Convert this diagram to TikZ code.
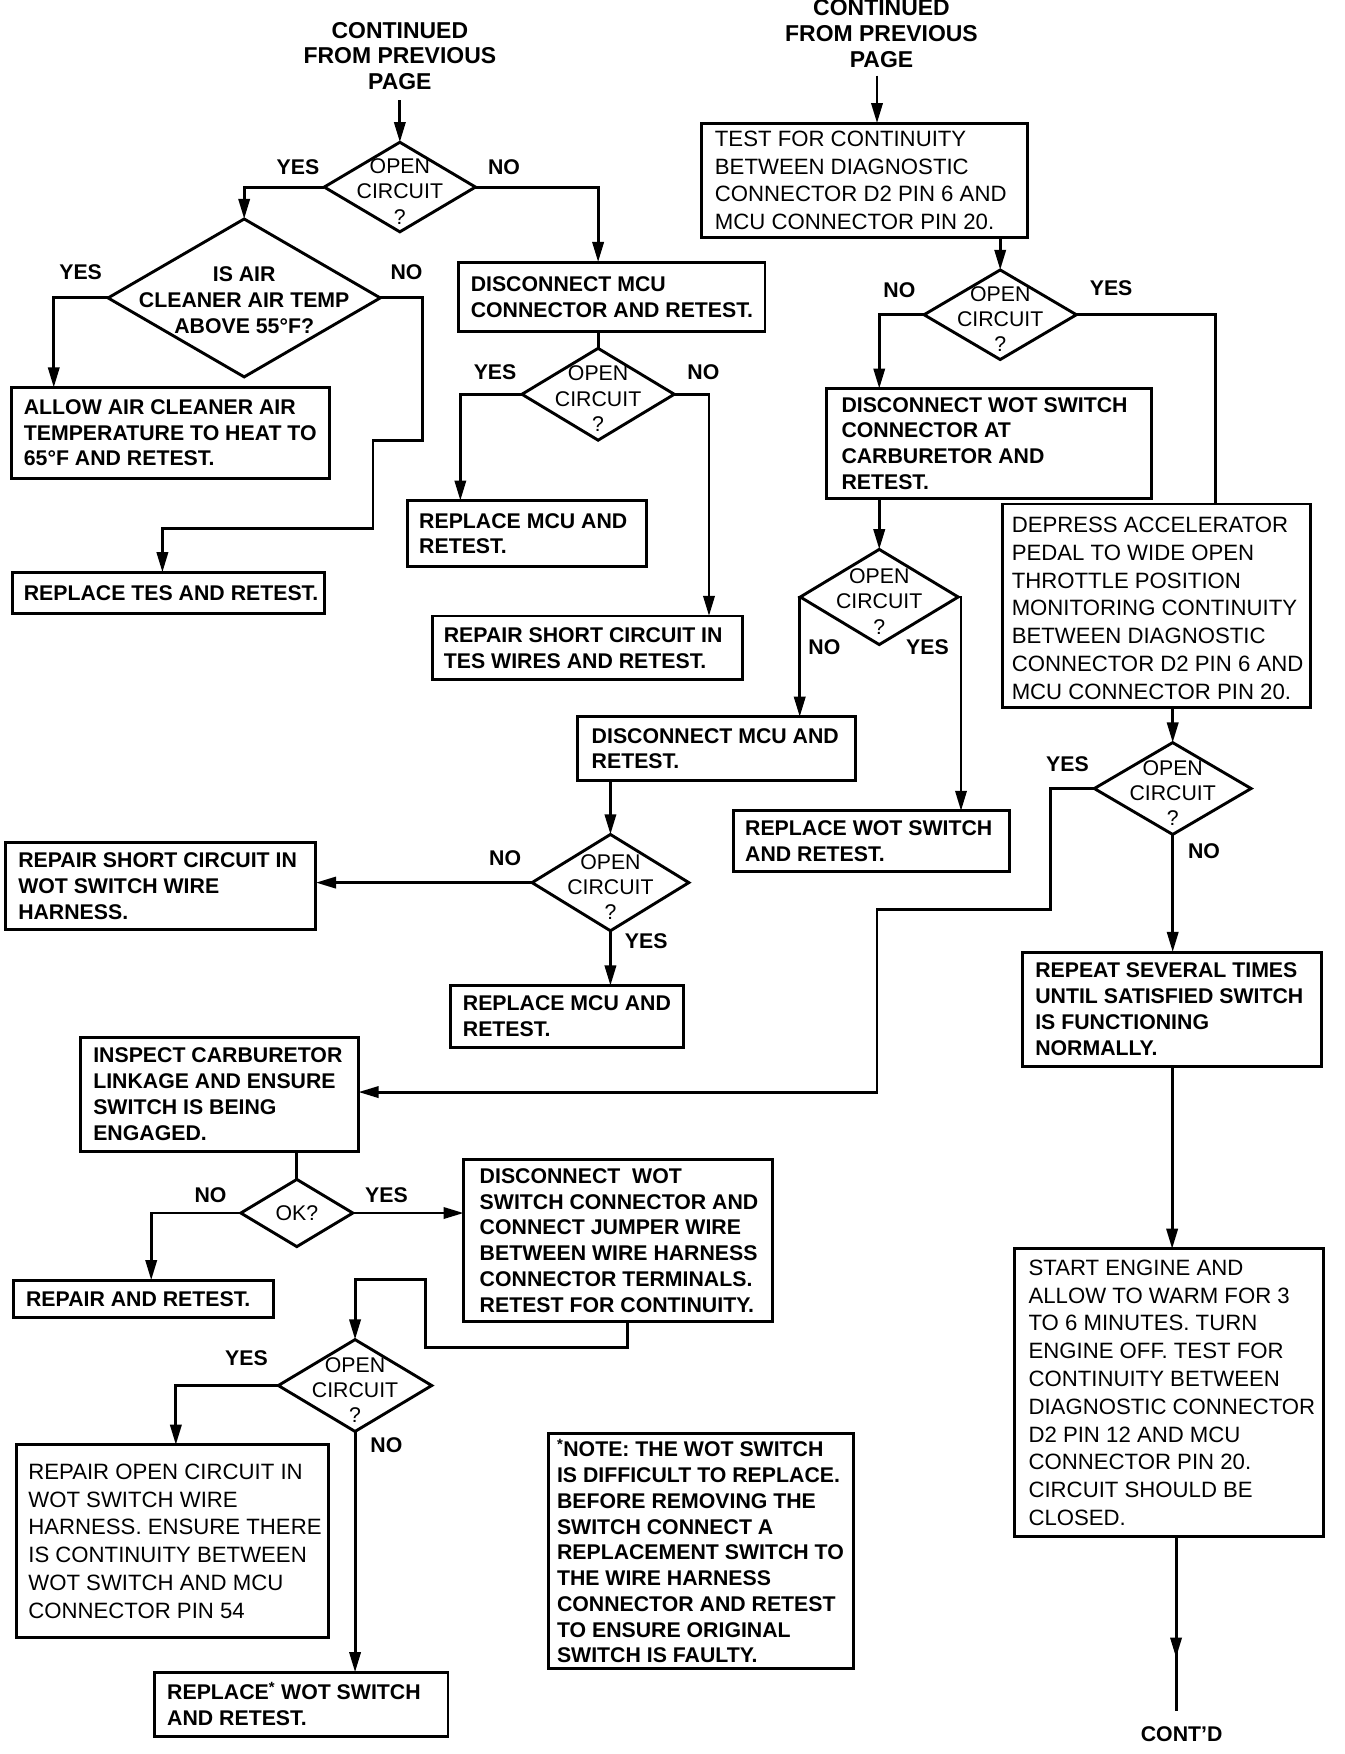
\documentclass[tikz,border=0pt]{standalone}
\usepackage{fontspec}
\setmainfont{Liberation Sans}
\usetikzlibrary{arrows.meta,shapes.geometric}
\newcommand{\bx}[5]{\node[box, minimum width={#4-#2}, minimum height={#5-#3}] (#1) at ({(#2+#4)/2},{(#3+#5)/2}) {};}
\newcommand{\dm}[5]{\node[dia, minimum width=#4, minimum height=#5] (#1) at (#2,#3) {};}
\begin{document}
\begin{tikzpicture}[x=1pt,y=-1pt, line width=2.6pt,
 box/.style={draw, rectangle, inner sep=0pt, outer sep=0pt},
 dia/.style={draw, diamond, inner sep=0pt, outer sep=0pt},
 tb/.style={font=\bfseries\fontsize{19}{23}\selectfont, align=left, inner sep=0pt, anchor=west},
 tr/.style={font=\fontsize{19.8}{24.8}\selectfont, align=left, inner sep=0pt, anchor=west},
 dt/.style={font=\fontsize{19}{22.5}\selectfont, align=center, inner sep=0pt},
 lb/.style={font=\bfseries\fontsize{19}{22}\selectfont, inner sep=0pt},
 tt/.style={font=\bfseries\fontsize{20.5}{23}\selectfont, align=center, inner sep=0pt},
 arr/.style={-{Triangle[length=18pt,width=10pt]}},
]
\useasboundingbox (0,0) rectangle (1200,1566);
\fill[white] (0,0) rectangle (1200,1566);

% ---------- headers ----------
\node[tt] (t1) at (357,50) {CONTINUED\\FROM PREVIOUS\\PAGE};
\node[tt] (t2) at (787,30) {CONTINUED\\FROM PREVIOUS\\PAGE};

% ---------- diamonds ----------
\dm{d1}{357}{167}{135}{80}
\dm{d2}{218}{266}{243}{141}
\dm{d3}{534}{352}{136}{82}
\dm{d4}{893}{281}{136}{80}
\dm{d5}{785}{533}{141}{85}
\dm{d6}{545}{788}{140}{86}
\dm{d7}{1047}{704}{140}{82}
\dm{d8}{265}{1083}{100}{60}
\dm{d9}{317}{1237}{137}{82}

\foreach \d in {d1,d3,d4,d5,d6,d7,d9}
  \node[dt] at ([yshift=-4pt]\d.center) {OPEN\\CIRCUIT\\?};
\node[dt, font=\bfseries\fontsize{19}{23}\selectfont] at ([yshift=-2pt]d2.center) {IS AIR\\CLEANER AIR TEMP\\ABOVE 55°F?};
\node[dt] at (d8.center) {OK?};

% ---------- boxes ----------
\bx{b1}{10}{346}{294}{427}
\node[tb] at ([xshift=10pt]b1.west) {ALLOW AIR CLEANER AIR\\TEMPERATURE TO HEAT TO\\65°F AND RETEST.};
\bx{tes}{11}{511}{290}{548}
\node[tb] at ([xshift=9pt]tes.west) {REPLACE TES AND RETEST.};
\bx{b3}{409}{234}{683}{296}
\node[tb] at ([xshift=10pt]b3.west) {DISCONNECT MCU\\CONNECTOR AND RETEST.};
\bx{b4}{364}{447}{577}{506}
\node[tb] at ([xshift=9pt]b4.west) {REPLACE MCU AND\\RETEST.};
\bx{b5}{386}{550}{663}{607}
\node[tb] at ([xshift=9pt]b5.west) {REPAIR SHORT CIRCUIT IN\\TES WIRES AND RETEST.};
\bx{b6}{626}{110}{917}{212}
\node[tr] at ([xshift=11pt]b6.west) {TEST FOR CONTINUITY\\BETWEEN DIAGNOSTIC\\CONNECTOR D2 PIN 6 AND\\MCU CONNECTOR PIN 20.};
\bx{b7}{738}{347}{1028}{445}
\node[tb] at ([xshift=12pt]b7.west) {DISCONNECT WOT SWITCH\\CONNECTOR AT\\CARBURETOR AND\\RETEST.};
\bx{b8}{895}{450}{1170}{632}
\node[tr] at ([xshift=7pt,yshift=-2pt]b8.west) {DEPRESS ACCELERATOR\\PEDAL TO WIDE OPEN\\THROTTLE POSITION\\MONITORING CONTINUITY\\BETWEEN DIAGNOSTIC\\CONNECTOR D2 PIN 6 AND\\MCU CONNECTOR PIN 20.};
\bx{b9}{516}{640}{764}{697}
\node[tb] at ([xshift=11pt]b9.west) {DISCONNECT MCU AND\\RETEST.};
\bx{b10}{655}{724}{901}{778}
\node[tb] at ([xshift=9pt]b10.west) {REPLACE WOT SWITCH\\AND RETEST.};
\bx{b11}{5}{752}{282}{830}
\node[tb] at ([xshift=10pt]b11.west) {REPAIR SHORT CIRCUIT IN\\WOT SWITCH WIRE\\HARNESS.};
\bx{b12}{402}{880}{610}{935}
\node[tb] at ([xshift=10pt]b12.west) {REPLACE MCU AND\\RETEST.};
\bx{b13}{72}{926}{320}{1028}
\node[tb] at ([xshift=10pt]b13.west) {INSPECT CARBURETOR\\LINKAGE AND ENSURE\\SWITCH IS BEING\\ENGAGED.};
\bx{b14}{913}{850}{1180}{952}
\node[tb] at ([xshift=10pt]b14.west) {REPEAT SEVERAL TIMES\\UNTIL SATISFIED SWITCH\\IS FUNCTIONING\\NORMALLY.};
\bx{b15}{906}{1115}{1182}{1372}
\node[tr] at ([xshift=11pt]b15.west) {START ENGINE AND\\ALLOW TO WARM FOR 3\\TO 6 MINUTES. TURN\\ENGINE OFF. TEST FOR\\CONTINUITY BETWEEN\\DIAGNOSTIC CONNECTOR\\D2 PIN 12 AND MCU\\CONNECTOR PIN 20.\\CIRCUIT SHOULD BE\\CLOSED.};
\bx{b16}{12}{1143}{244}{1176}
\node[tb] at ([xshift=10pt]b16.west) {REPAIR AND RETEST.};
\bx{b17}{414}{1035}{690}{1180}
\node[tb] at ([xshift=13pt]b17.west) {DISCONNECT\ \ WOT\\SWITCH CONNECTOR AND\\CONNECT JUMPER WIRE\\BETWEEN WIRE HARNESS\\CONNECTOR TERMINALS.\\RETEST FOR CONTINUITY.};
\bx{b18}{15}{1290}{293}{1462}
\node[tr] at ([xshift=9pt]b18.west) {REPAIR OPEN CIRCUIT IN\\WOT SWITCH WIRE\\HARNESS. ENSURE THERE\\IS CONTINUITY BETWEEN\\WOT SWITCH AND MCU\\CONNECTOR PIN 54};
\bx{b19}{138}{1493}{400}{1550}
\node[tb] at ([xshift=10pt]b19.west) {REPLACE\textsuperscript{*} WOT SWITCH\\AND RETEST.};
\bx{b20}{490}{1280}{762}{1490}
\node[tb] at ([xshift=6pt]b20.west) {\textsuperscript{*}NOTE: THE WOT SWITCH\\IS DIFFICULT TO REPLACE.\\BEFORE REMOVING THE\\SWITCH CONNECT A\\REPLACEMENT SWITCH TO\\THE WIRE HARNESS\\CONNECTOR AND RETEST\\TO ENSURE ORIGINAL\\SWITCH IS FAULTY.};

% ---------- labels ----------
\node[lb] at (266,149) {YES};  \node[lb] at (450,149) {NO};
\node[lb] at (72,243) {YES};   \node[lb] at (363,243) {NO};
\node[lb] at (442,332) {YES};  \node[lb] at (628,332) {NO};
\node[lb] at (803,259) {NO};   \node[lb] at (992,257) {YES};
\node[lb] at (736,578) {NO};   \node[lb] at (828,578) {YES};
\node[lb] at (451,766) {NO};   \node[lb] at (577,840) {YES};
\node[lb] at (953,682) {YES};  \node[lb] at (1075,760) {NO};
\node[lb] at (188,1067) {NO};  \node[lb] at (345,1067) {YES};
\node[lb] at (220,1213) {YES}; \node[lb] at (345,1290) {NO};

% ---------- helper coordinates ----------
\coordinate (k1) at (377,393);
\coordinate (k2) at (333,472);
\coordinate (k3) at (145,0);
\coordinate (j1) at (938,812);
\coordinate (j2) at (783,975);
\coordinate (l1) at (560,1203);
\coordinate (l2) at (380,1142);
\coordinate (e1) at (1050,1480);
\coordinate (e2) at (1050,1528);

% ---------- connectors ----------
\draw[arr, shorten <=8pt] (t1.south) -- (d1.north);
\draw[arr] ([xshift=-4pt,yshift=-6pt]t2.south) coordinate (s2) -- (s2 |- b6.north);
\draw[arr] (d1.west) -| (d2.north);
\draw[arr] (d1.east) -| (d3.north |- b3.north);
\draw[arr] (d2.west) -| ([xshift=38pt]b1.north west);
\draw[arr] (d2.east) -| (k1) -| (k2) -| (k3 |- tes.north);
\draw (b3.south -| d3.north) -- (d3.north);
\draw[arr] (d3.west) -| ([xshift=47pt]b4.north west);
\draw[arr] (d3.east) -| ([xshift=247pt]b5.north west);
\draw[arr] (b6.south -| d4.north) -- (d4.north);
\draw[arr] (d4.west) -| ([xshift=47pt]b7.north west);
\draw (d4.east) -| ([xshift=190pt]b8.north west);
\draw[arr] (b7.south -| d5.north) -- (d5.north);
\draw[arr] (d5.west) -| ([xshift=198pt]b9.north west);
\draw[arr] (d5.east) -| ([xshift=203pt]b10.north west);
\draw[arr] (b9.south -| d6.north) -- (d6.north);
\draw[arr] (d6.west) -- (d6.west -| b11.east);
\draw[arr] (d6.south) -- (d6.south |- b12.north);
\draw[arr] (b8.south -| d7.north) -- (d7.north);
\draw[arr] (d7.west) -| (j1) -| (j2) -- (j2 -| b13.east);
\draw[arr] (d7.south) -- (d7.south |- b14.north);
\draw[arr] (b14.south) -- (b14.south |- b15.north);
\draw[arr] (e1 |- b15.south) -- (e1);
\draw ([yshift=10pt]e1) -- (e2);
\node[lb] (cd) at (1055,1548) {CONT'D};
\draw (b13.south -| d8.north) -- (d8.north);
\draw[arr] (d8.west) -| ([xshift=123pt]b16.north west);
\draw[arr] (d8.east) -- (d8.east -| b17.west);
\draw[arr] (l1 |- b17.south) -- (l1) -| (l2) -| (d9.north);
\draw[arr] (d9.west) -| ([xshift=142pt]b18.north west);
\draw[arr] (d9.south) -- (d9.south |- b19.north);
\end{tikzpicture}
\end{document}
